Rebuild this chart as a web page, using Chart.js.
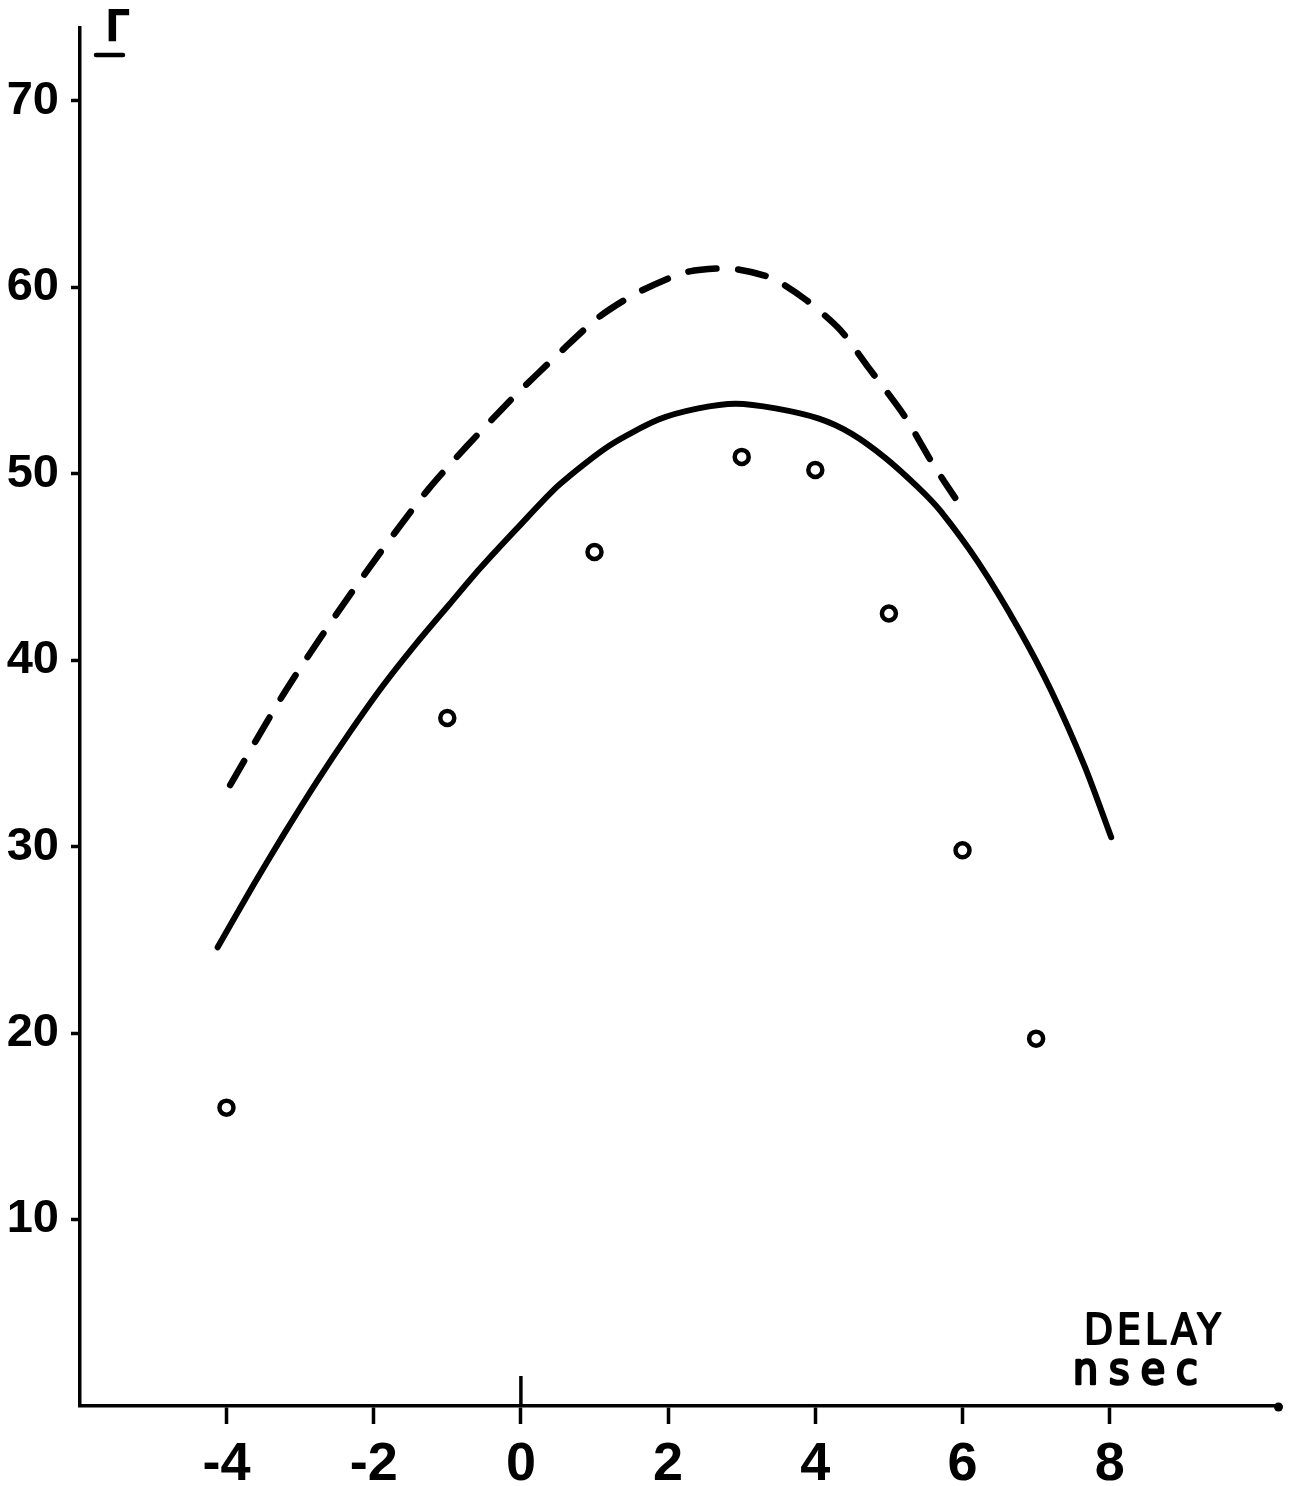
<!DOCTYPE html>
<html><head><meta charset="utf-8">
<script src="https://cdn.jsdelivr.net/npm/chart.js@4.4.1/dist/chart.umd.min.js"></script>
<style>html,body{margin:0;padding:0;background:#fff;}#wrap{width:1292px;height:1486px;position:relative;}</style>
</head><body><div id="wrap"><canvas id="c"></canvas></div>
<script>
// Data
const xTickValues = [-4, -2, 0, 2, 4, 6, 8];
const yTickValues = [10, 20, 30, 40, 50, 60, 70];
const xTickLabels = ['-4', '-2', '0', '2', '4', '6', '8'];
const yTickLabels = ['10', '20', '30', '40', '50', '60', '70'];

const measuredX = [-4, -1, 1, 3, 4, 5, 6, 7];
const measuredY = [16.0, 36.9, 45.8, 50.9, 50.2, 42.5, 29.8, 19.7];

const solidX = [-4.12, -3.64, -3.23, -2.77, -2.33, -1.88, -1.42, -0.97, -0.56, -0.02, 0.52, 1.2, 1.87, 2.41, 2.92, 3.46, 4.05, 4.49, 4.95, 5.4, 5.7, 6.22, 6.76, 7.2, 7.66, 8.02];
const solidY = [24.6, 27.9, 30.6, 33.5, 36.1, 38.6, 40.9, 43.0, 44.9, 47.2, 49.4, 51.5, 52.9, 53.5, 53.75, 53.5, 52.95, 52.15, 50.85, 49.25, 48.0, 45.2, 41.7, 38.4, 34.3, 30.5];

const dashX = [-3.95, -3.19, -2.27, -1.25, -0.2, 0.61, 1.06, 1.58, 2.24, 2.85, 3.4, 3.88, 4.34, 4.72, 5.21, 5.6, 5.9];
const dashY = [33.3, 38.4, 43.8, 49.2, 53.7, 56.8, 58.4, 59.7, 60.8, 61.0, 60.5, 59.3, 57.7, 55.7, 53.1, 50.5, 48.7];

const yAxisTitle = 'Γ';
const xAxisTitle = ['DELAY', 'nsec'];

const toXY = (xs, ys) => xs.map((x, i) => ({x: x, y: ys[i]}));
const FONT = "'Liberation Sans', Arial, sans-serif";
const TFONT = "'DejaVu Sans Condensed', 'DejaVu Sans', sans-serif";

const decor = {
  id: 'decor',
  afterDraw(chart) {
    const ctx = chart.ctx, a = chart.chartArea;
    const xs = chart.scales.x;
    ctx.save();
    ctx.strokeStyle = '#000'; ctx.fillStyle = '#000';
    // 0 tick extends above axis
    const x0 = xs.getPixelForValue(0);
    ctx.lineWidth = 3.5;
    ctx.beginPath(); ctx.moveTo(x0, a.bottom); ctx.lineTo(x0, a.bottom - 30); ctx.stroke();
    // dot at end of x axis
    ctx.beginPath(); ctx.arc(a.right - 2, a.bottom + 1, 4.5, 0, Math.PI * 2); ctx.fill();
    // Gamma label
    ctx.font = "bold 44px " + TFONT;
    ctx.textAlign = 'left'; ctx.textBaseline = 'alphabetic';
    ctx.fillText(yAxisTitle, a.left + 25, a.top + 14);
    ctx.lineWidth = 4.5; ctx.lineCap = 'round';
    ctx.beginPath(); ctx.moveTo(a.left + 16, a.top + 27); ctx.lineTo(a.left + 43, a.top + 27); ctx.stroke();
    // DELAY nsec
    ctx.lineWidth = 1.8; ctx.lineJoin = 'round';
    ctx.font = "42px " + TFONT;
    ctx.letterSpacing = '4px';
    const dx = xs.getPixelForValue(7.65), dy = a.bottom - 62;
    ctx.fillText(xAxisTitle[0], dx, dy); ctx.strokeText(xAxisTitle[0], dx, dy);
    ctx.font = "44px " + TFONT;
    ctx.letterSpacing = '11px';
    ctx.lineWidth = 2.6;
    const nx = xs.getPixelForValue(7.5), ny = a.bottom - 22;
    ctx.fillText(xAxisTitle[1], nx, ny); ctx.strokeText(xAxisTitle[1], nx, ny);
    ctx.restore();
  }
};

new Chart(document.getElementById('c'), {
  type: 'scatter',
  data: {
    datasets: [
      { label: 'measured', data: toXY(measuredX, measuredY), showLine: false,
        pointStyle: 'circle', pointRadius: 7, pointBorderWidth: 4.5,
        pointBorderColor: '#000', pointBackgroundColor: '#fff' },
      { label: 'solid', data: toXY(solidX, solidY), showLine: true, pointRadius: 0,
        borderColor: '#000', borderWidth: 6, tension: 0.25, borderCapStyle: 'round', borderJoinStyle: 'round' },
      { label: 'dashed', data: toXY(dashX, dashY), showLine: true, pointRadius: 0,
        borderColor: '#000', borderWidth: 6.5, borderDash: [28, 22], borderCapStyle: 'round', tension: 0.25 }
    ]
  },
  options: {
    responsive: true, maintainAspectRatio: false, animation: false,
    layout: { padding: { top: 28, right: 8, left: 0, bottom: 0 } },
    plugins: { legend: { display: false }, tooltip: { enabled: false } },
    scales: {
      x: {
        type: 'linear', min: -5.99, max: 10.32,
        afterBuildTicks: s => { s.ticks = xTickValues.map(v => ({value: v})); },
        afterFit: s => { s.height = 80; s.paddingLeft = 0; s.paddingRight = 0; },
        border: { display: true, color: '#000', width: 3.5 },
        grid: { drawOnChartArea: false, drawTicks: true, tickLength: 18, tickWidth: 3.5, tickColor: '#000' },
        ticks: { color: '#000', padding: 9, autoSkip: false, maxRotation: 0,
          font: { family: FONT, size: 54, weight: 'bold' },
          callback: (v) => { const i = xTickValues.indexOf(v); return i >= 0 ? xTickLabels[i] : ''; } }
      },
      y: {
        type: 'linear', min: 0, max: 73.9,
        afterBuildTicks: s => { s.ticks = yTickValues.map(v => ({value: v})); },
        afterFit: s => { s.width = 80; s.paddingTop = 0; s.paddingBottom = 0; },
        border: { display: true, color: '#000', width: 3.5 },
        grid: { drawOnChartArea: false, drawTicks: true, tickLength: 9, tickWidth: 3.5, tickColor: '#000' },
        ticks: { color: '#000', padding: 12, autoSkip: false,
          font: { family: FONT, size: 47, weight: 'bold' },
          callback: (v) => { const i = yTickValues.indexOf(v); return i >= 0 ? yTickLabels[i] : ''; } }
      }
    }
  },
  plugins: [decor]
});
</script></body></html>
